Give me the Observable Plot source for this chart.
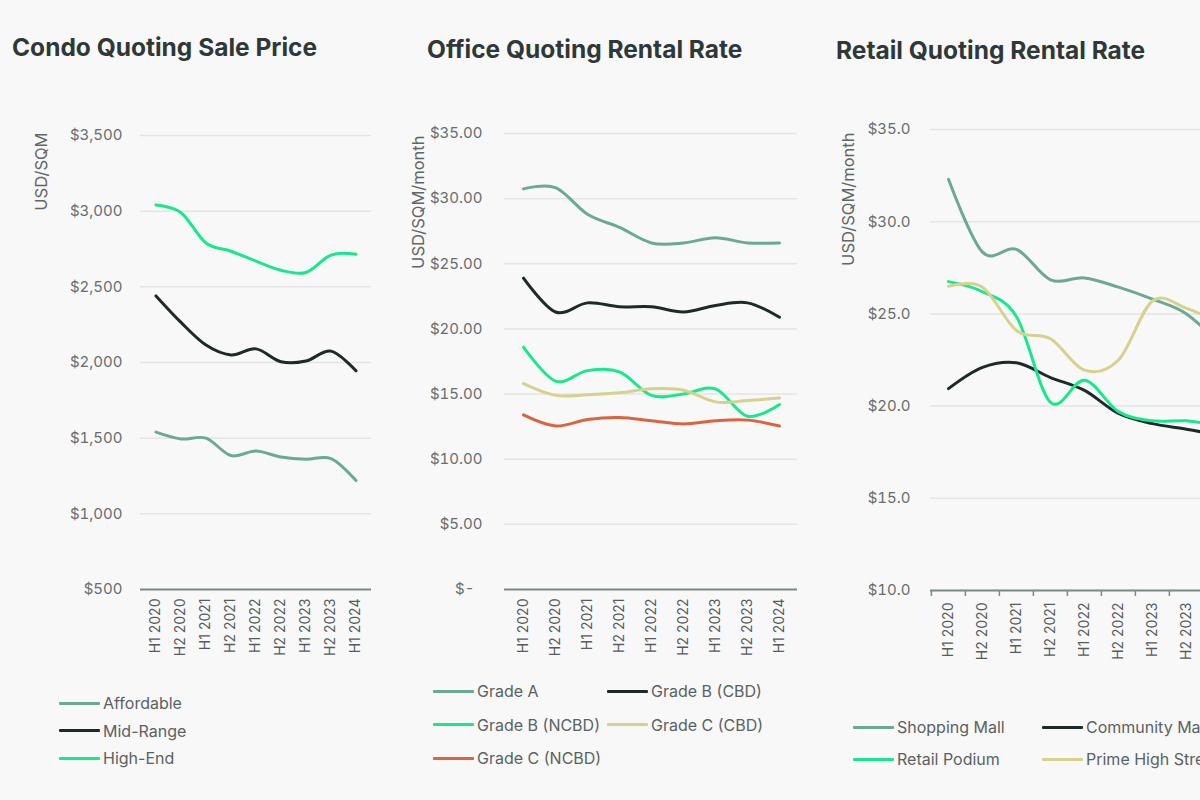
<!DOCTYPE html>
<html>
<head>
<meta charset="utf-8">
<script src="https://cdn.jsdelivr.net/npm/d3@7"></script>
<script src="https://cdn.jsdelivr.net/npm/@observablehq/plot@0.6"></script>
<style>
  html, body { margin: 0; padding: 0; }
  body { width: 1200px; height: 800px; overflow: hidden; position: relative; background: #f8f8f8; font-family: Inter, "Noto Sans", sans-serif; }
  .title { position: absolute; font-size: 24.5px; line-height: 24.5px; font-weight: 700; color: #2f3838; white-space: nowrap; }
  .chart { position: absolute; top: 110px; height: 560px; }
  .chart svg { max-width: none !important; }
  .legend-item { position: absolute; display: flex; align-items: center; height: 20px; font-size: 16px; line-height: 16px; color: #5a6262; white-space: nowrap; }
  .legend-item .sw { width: 41px; height: 3px; margin-right: 3px; border-radius: 1px; }
</style>
</head>
<body>
<div class="title" style="left:12px; top:35px;">Condo Quoting Sale Price</div>
<div class="title" style="left:427px; top:37px;">Office Quoting Rental Rate</div>
<div class="title" style="left:836px; top:38px;">Retail Quoting Rental Rate</div>
<div id="c1" class="chart" style="left:0px; width:400px;"></div>
<div id="c2" class="chart" style="left:400px; width:420px;"></div>
<div id="c3" class="chart" style="left:820px; width:440px;"></div>
<div id="legends"></div>
<script>
// ---------- data ----------
const periods = ["H1 2020","H2 2020","H1 2021","H2 2021","H1 2022","H2 2022","H1 2023","H2 2023","H1 2024"];

// Condo quoting sale price (USD/SQM)
const condoNames = ["Affordable","Mid-Range","High-End"];
const affordable = [1540,1495,1500,1385,1415,1375,1360,1365,1220];
const midRange   = [2440,2265,2115,2050,2090,2005,2010,2075,1945];
const highEnd    = [3040,2990,2790,2735,2670,2610,2595,2710,2715];
const condoTicks = [500,1000,1500,2000,2500,3000,3500];

// Office quoting rental rate (USD/SQM/month)
const officeNames = ["Grade A","Grade B (CBD)","Grade B (NCBD)","Grade C (CBD)","Grade C (NCBD)"];
const gradeA     = [30.75,30.85,28.8,27.8,26.6,26.6,27.0,26.6,26.6];
const gradeBCBD  = [23.9,21.3,22.0,21.7,21.7,21.3,21.8,22.0,20.9];
const gradeBNCBD = [18.6,16.0,16.8,16.7,14.9,15.0,15.4,13.3,14.2];
const gradeCCBD  = [15.8,14.9,14.95,15.1,15.4,15.3,14.4,14.5,14.7];
const gradeCNCBD = [13.4,12.55,13.05,13.2,12.95,12.7,12.95,13.0,12.55];
const officeTicks = [0,5,10,15,20,25,30,35];

// Retail quoting rental rate (USD/SQM/month)
const retailNames = ["Shopping Mall","Community Mall","Retail Podium","Prime High Street"];
const shoppingMall    = [32.3,28.35,28.5,26.85,26.95,26.45,25.8,25.0,23.3];
const communityMall   = [20.95,22.1,22.35,21.55,20.85,19.6,19.05,18.75,18.4];
const retailPodium    = [26.75,26.2,24.85,20.2,21.4,19.7,19.2,19.2,18.9];
const primeHighStreet = [26.5,26.45,24.1,23.65,21.95,22.5,25.7,25.3,24.5];
const retailTicks = [10,15,20,25,30,35];

// ---------- styling ----------
const TEAL = "#6aaa95", DARK = "#1e2a2a", GREEN = "#17e88f", KHAKI = "#d6d28d", ORANGE = "#d9643e";

function rowsOf(names, valueArrays) {
  return names.flatMap((n, k) => periods.map((p, i) => ({period: p, value: valueArrays[k][i], series: n})));
}

function makeChart(cfg) {
  const rows = rowsOf(cfg.names, cfg.values);
  const bw = (cfg.width - cfg.marginLeft - cfg.marginRight) / periods.length;
  const marks = [
    Plot.gridY(cfg.ticks, {stroke: "#e4e4e4", strokeOpacity: 1, strokeWidth: 1.5}),
    Plot.axisY(cfg.ticks, {tickSize: 0, tickPadding: cfg.tickPadding, tickFormat: cfg.fmt, fontSize: 15, fill: "#666d6d"}),
    Plot.ruleY([cfg.ticks[0]], {stroke: "#7e8888", strokeWidth: 2}),
  ];
  if (cfg.boundaryTicks) {
    // tick marks at the band edges (between categories)
    marks.push(Plot.axisX({tickSize: 6, text: null, dx: -bw / 2, stroke: "#7e8888", strokeWidth: 1.5, strokeOpacity: 1}));
  }
  marks.push(
    Plot.axisX({tickSize: 0, tickPadding: cfg.xPadding, tickRotate: -90, fontSize: 14, fill: "#555c5c"}),
    Plot.line(rows, {x: "period", y: "value", stroke: "series", strokeWidth: 3, curve: "cardinal", tension: 0}),
    Plot.text([cfg.label], {frameAnchor: "top-left", rotate: -90, textAnchor: "end", dx: cfg.labelDx, dy: cfg.labelDy, fontSize: 16.5, fill: "#5f6666"})
  );
  const p = Plot.plot({
    width: cfg.width, height: 560,
    marginLeft: cfg.marginLeft, marginRight: cfg.marginRight,
    marginTop: cfg.marginTop, marginBottom: cfg.marginBottom,
    style: {background: "transparent", fontFamily: "Inter, 'Noto Sans', sans-serif", overflow: "visible", maxWidth: "none"},
    x: {type: "band", domain: periods, padding: 0, label: null},
    y: {domain: [cfg.ticks[0], cfg.ticks[cfg.ticks.length - 1]], label: null},
    color: {domain: cfg.names, range: cfg.colors},
    marks
  });
  document.getElementById(cfg.id).appendChild(p);
  return p;
}

makeChart({
  id: "c1", width: 400, marginLeft: 140, marginRight: 29, marginTop: 25, marginBottom: 81,
  names: condoNames, values: [affordable, midRange, highEnd], colors: [TEAL, DARK, GREEN],
  ticks: condoTicks, fmt: d => "$" + d3.format(",")(d), tickPadding: 18, xPadding: 9,
  label: "USD/SQM", labelDx: -105, labelDy: -3
});

makeChart({
  id: "c2", width: 420, marginLeft: 104, marginRight: 23, marginTop: 23, marginBottom: 81,
  names: officeNames, values: [gradeA, gradeBCBD, gradeBNCBD, gradeCCBD, gradeCNCBD],
  colors: [TEAL, DARK, GREEN, KHAKI, ORANGE],
  ticks: officeTicks, fmt: d => d === 0 ? "$-\u00a0\u00a0" : "$" + d3.format(".2f")(d), tickPadding: 22, xPadding: 9,
  label: "USD/SQM/month", labelDx: -92, labelDy: 2
});

makeChart({
  id: "c3", width: 440, marginLeft: 110, marginRight: 22, marginTop: 19, marginBottom: 80,
  names: retailNames, values: [shoppingMall, communityMall, retailPodium, primeHighStreet],
  colors: [TEAL, DARK, GREEN, KHAKI],
  ticks: retailTicks, fmt: d => "$" + d3.format(".1f")(d), tickPadding: 20, xPadding: 12,
  label: "USD/SQM/month", labelDx: -88, labelDy: 3, boundaryTicks: true
});

// ---------- legends ----------
function legend(names, colors, x0, y0, cols, colW, rowH) {
  const host = document.getElementById("legends");
  names.forEach((n, i) => {
    const item = document.createElement("div");
    item.className = "legend-item";
    item.style.left = (x0 + (i % cols) * colW) + "px";
    item.style.top = (y0 + Math.floor(i / cols) * rowH - 10) + "px";
    const sw = document.createElement("span");
    sw.className = "sw";
    sw.style.background = colors[i];
    const t = document.createElement("span");
    t.textContent = n;
    item.appendChild(sw); item.appendChild(t);
    host.appendChild(item);
  });
}
legend(condoNames, [TEAL, DARK, GREEN], 59, 703, 1, 0, 27.5);
legend(officeNames, [TEAL, DARK, GREEN, KHAKI, ORANGE], 433, 691, 2, 174, 33.5);
legend(retailNames, [TEAL, DARK, GREEN, KHAKI], 853, 727, 2, 189, 32);
</script>
</body>
</html>
